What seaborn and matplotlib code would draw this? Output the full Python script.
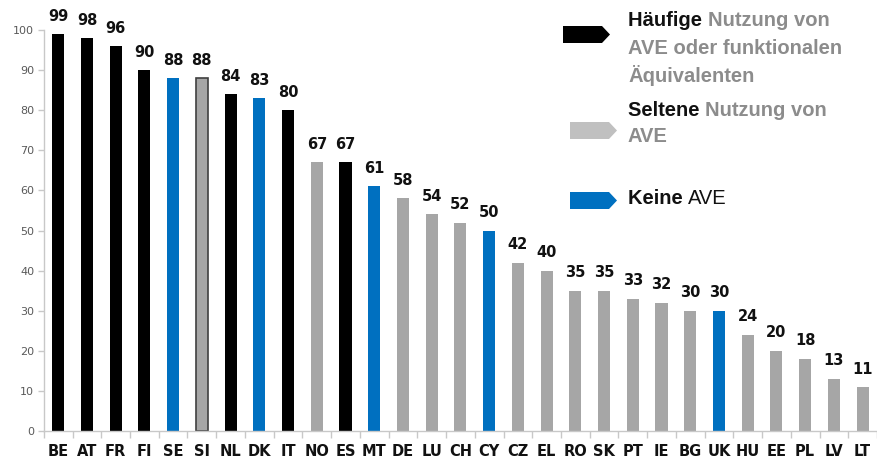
import matplotlib
matplotlib.use("Agg")
import matplotlib.pyplot as plt
from matplotlib.patches import Polygon
import seaborn as sns
import pandas as pd

countries = ["BE", "AT", "FR", "FI", "SE", "SI", "NL", "DK", "IT", "NO",
             "ES", "MT", "DE", "LU", "CH", "CY", "CZ", "EL", "RO", "SK",
             "PT", "IE", "BG", "UK", "HU", "EE", "PL", "LV", "LT"]
values = [99, 98, 96, 90, 88, 88, 84, 83, 80, 67,
          67, 61, 58, 54, 52, 50, 42, 40, 35, 35,
          33, 32, 30, 30, 24, 20, 18, 13, 11]
usage = ["h", "h", "h", "h", "k", "s", "h", "k", "h", "s",
         "h", "k", "s", "s", "s", "k", "s", "s", "s", "s",
         "s", "s", "s", "k", "s", "s", "s", "s", "s"]
outlined = ["SI"]

BLACK = "#000000"
GREY = "#a6a6a6"
BLUE = "#0070c0"
palette = {"h": BLACK, "s": GREY, "k": BLUE}

df = pd.DataFrame({"land": countries, "wert": values, "gruppe": usage})

sns.set_theme(style="white")
plt.rcParams["font.family"] = ["Liberation Sans", "DejaVu Sans"]

fig = plt.figure(figsize=(8.77, 4.62), dpi=100)
ax = fig.add_axes([0.050, 0.067, 0.950, 0.868])

sns.barplot(data=df, x="land", y="wert", hue="gruppe", palette=palette,
            dodge=False, width=0.42, legend=False, ax=ax, order=countries,
            linewidth=0, saturation=1)

# outline for marked bars and value labels
for p in ax.patches:
    if p.get_height() <= 0:
        continue
    xc = p.get_x() + p.get_width() / 2
    idx = int(round(xc))
    if countries[idx] in outlined:
        p.set_edgecolor("#404040")
        p.set_linewidth(1.2)
    ax.text(xc, values[idx] + 2.6, str(values[idx]), ha="center", va="bottom",
            fontsize=10.5, fontweight="bold", color="#111111",
            family=["DejaVu Sans"], clip_on=False)

ax.set_xlim(-0.5, len(countries) - 0.5)
ax.set_ylim(0, 100)
ax.set_yticks(range(0, 101, 10))
ax.set_xlabel("")
ax.set_ylabel("")

for s in ["top", "right"]:
    ax.spines[s].set_visible(False)
for s in ["left", "bottom"]:
    ax.spines[s].set_color("#c8c8c8")
    ax.spines[s].set_linewidth(1.0)

ax.tick_params(axis="y", which="major", left=True, length=4, width=1,
               color="#c8c8c8", labelsize=8, labelcolor="#595959", pad=3)
for lab in ax.get_yticklabels():
    lab.set_family(["DejaVu Sans"])
ax.set_xticks([i - 0.5 for i in range(len(countries) + 1)], minor=True)
ax.tick_params(axis="x", which="minor", bottom=True, length=5, width=1,
               color="#c8c8c8")
ax.tick_params(axis="x", which="major", bottom=False, length=0,
               labelsize=10.5, labelcolor="#111111", pad=9)
for lab in ax.get_xticklabels():
    lab.set_fontweight("bold")
    lab.set_family(["DejaVu Sans"])
ax.grid(False)

# legend with arrow-shaped markers
W, H = fig.get_size_inches() * fig.dpi


def arrow(x0, y0, w, h, color):
    tip = 8
    pts = [(x0, y0), (x0 + w - tip, y0), (x0 + w, y0 + h / 2),
           (x0 + w - tip, y0 + h), (x0, y0 + h)]
    pts = [(px / W, 1 - py / H) for px, py in pts]
    fig.patches.append(Polygon(pts, closed=True, facecolor=color,
                               edgecolor="none", transform=fig.transFigure))


arrow(563, 26, 47, 17, BLACK)
arrow(570, 122, 47, 17, "#c0c0c0")
arrow(570, 192, 47, 17, BLUE)

LG = "#8c8c8c"
fs = 14.5


def line(x, y, parts):
    t = None
    for txt, col in parts:
        if t is None:
            t = fig.text(x / W, 1 - y / H, txt, color=col, fontsize=fs,
                         fontweight="bold", va="center", ha="left")
        else:
            t = ax.annotate(txt, xycoords=t, xy=(1, 0), va="bottom",
                            ha="left", color=col, fontsize=fs,
                            fontweight="bold", annotation_clip=False)
    return t


line(628, 21, [("Häufige ", "#111111"), ("Nutzung von", LG)])
line(628, 48, [("AVE oder funktionalen", LG)])
line(628, 75, [("Äquivalenten", LG)])
line(628, 111, [("Seltene ", "#111111"), ("Nutzung von", LG)])
line(628, 137, [("AVE", LG)])
fig.text(628 / W, 1 - 198 / H, "Keine ", color="#111111", fontsize=fs,
         fontweight="bold", va="center", ha="left")
t = fig.texts[-1]
ax.annotate("AVE", xycoords=t, xy=(1, 0), va="bottom", ha="left",
            color="#111111", fontsize=fs, annotation_clip=False)

fig.savefig("out.png", dpi=100)
